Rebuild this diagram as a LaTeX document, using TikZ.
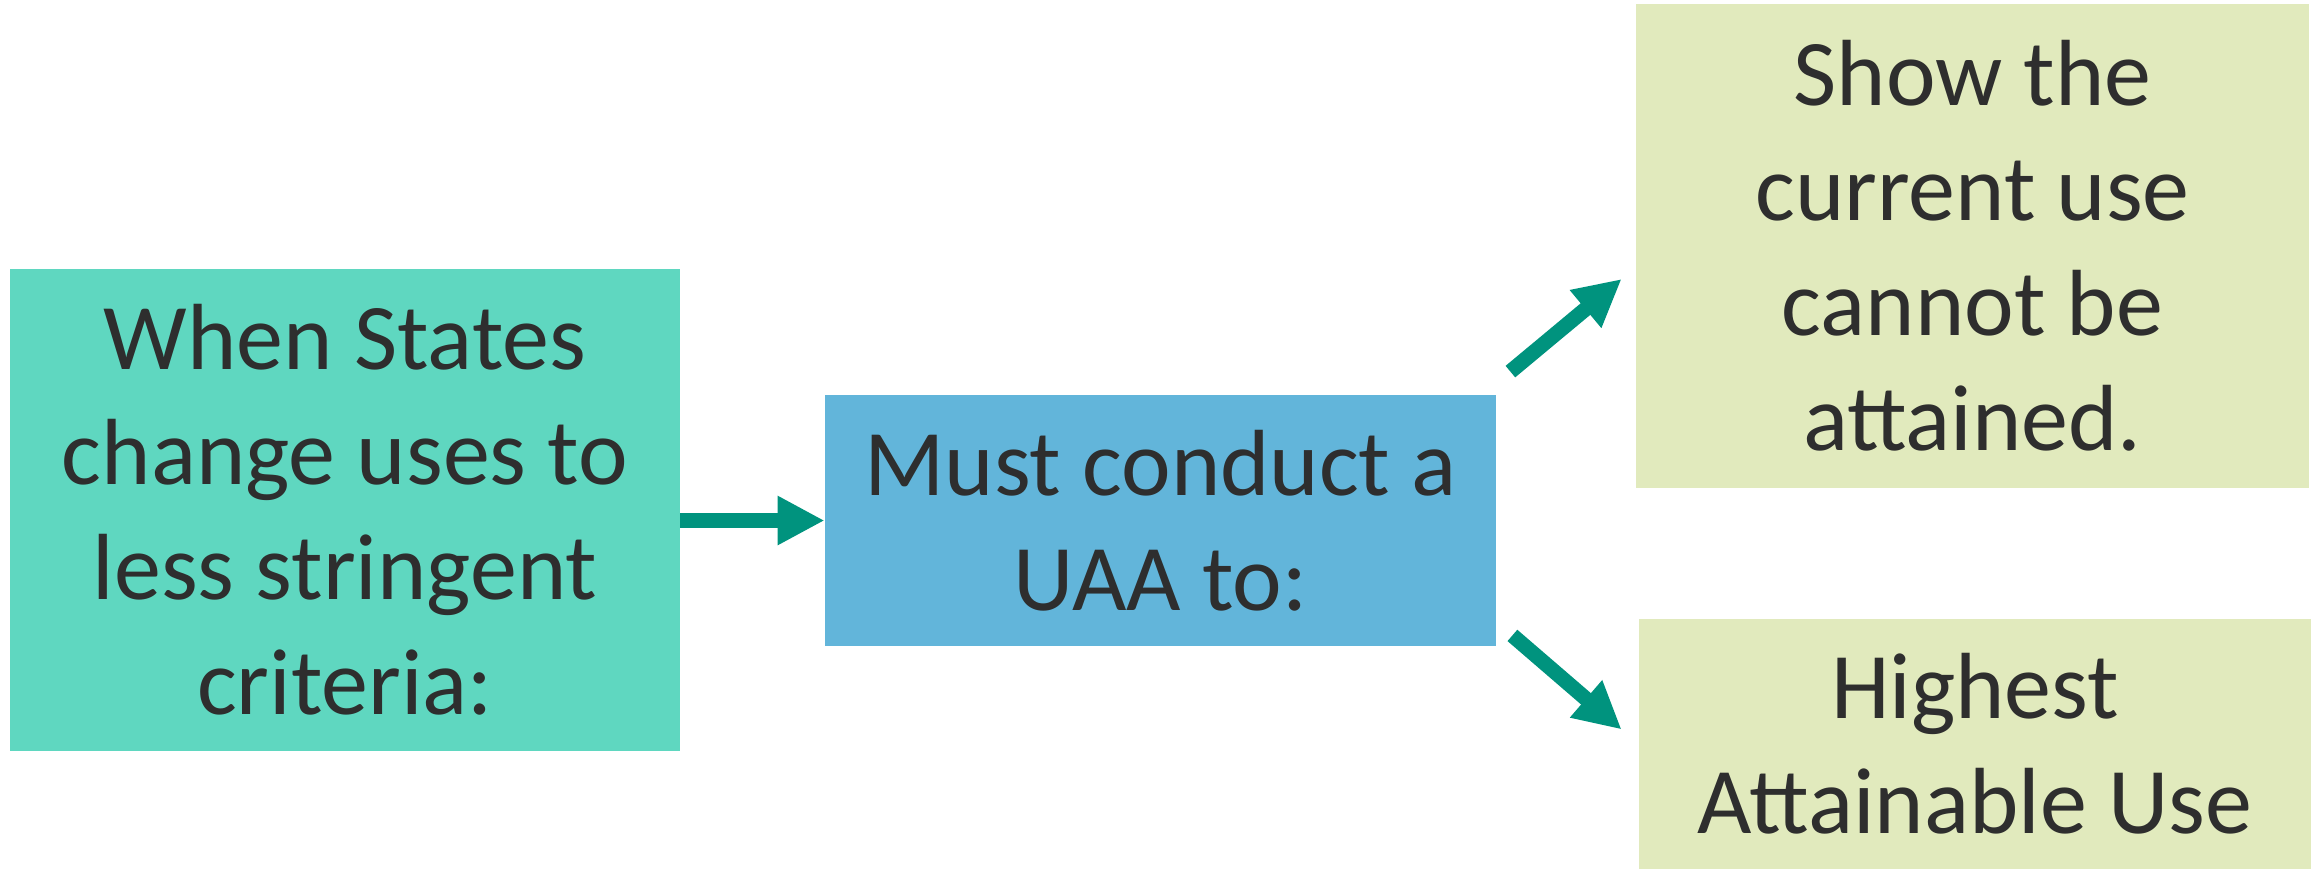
\documentclass[tikz,border=0pt]{standalone}
\usepackage{fontspec}
\setmainfont{Carlito}
\usetikzlibrary{arrows.meta}
\definecolor{critgreen}{RGB}{95,215,192}
\definecolor{uaablue}{RGB}{98,181,218}
\definecolor{useolive}{RGB}{225,234,189}
\definecolor{arrowteal}{RGB}{0,147,126}
\definecolor{textgrey}{RGB}{46,46,46}
\tikzstyle{stage} = [rectangle, inner sep=0pt, align=center, text=textgrey, font=\fontsize{47}{57.5}\selectfont]
\tikzstyle{arrow} = [line width=7.5pt, draw=arrowteal, -{Triangle[width=23pt,length=23.5pt,fill=arrowteal]}]

\begin{document}
\begin{tikzpicture}[x=0.5pt,y=-0.5pt]
	\useasboundingbox (0,0) rectangle (2318,868);
	\node (crit) [stage, fill=critgreen, minimum width=335pt, minimum height=241pt] at (345,510) {When States\\change uses to\\less stringent\\criteria:};
	\node (uaa) [stage, fill=uaablue, minimum width=335.5pt, minimum height=125.5pt] at (1160.5,520.5) {Must conduct a\\UAA to:};
	\node (show) [stage, fill=useolive, minimum width=336.5pt, minimum height=242pt] at (1972.5,246) {Show the\\current use\\cannot be\\attained.};
	\node (high) [stage, fill=useolive, minimum width=336pt, minimum height=125pt] at (1975,743.5) {Highest\\Attainable Use};

	\draw [arrow] (crit.east |- uaa.west) -- (uaa.west);
	\draw [arrow] ([shift={(14,-23)}]uaa.north east) -- ([shift={(-14,33)}]show.west);
	\draw [arrow] ([shift={(16,-11)}]uaa.south east) -- ([shift={(-17,-14)}]high.west);
\end{tikzpicture}
\end{document}
